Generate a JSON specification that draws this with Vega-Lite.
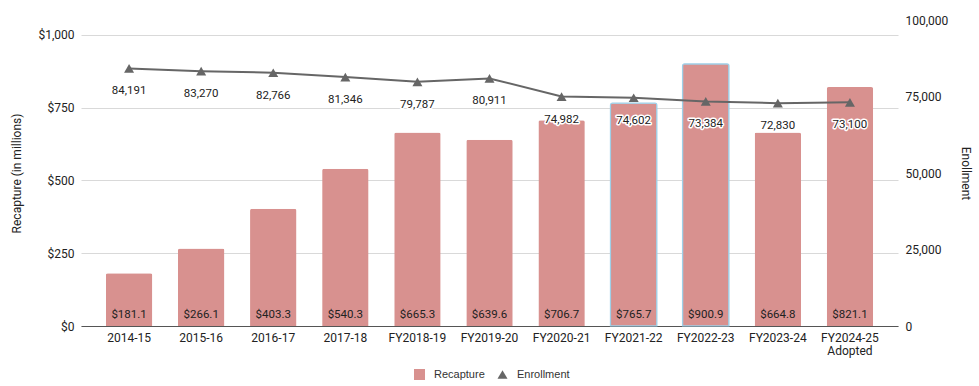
{
  "$schema": "https://vega.github.io/schema/vega-lite/v6.json",
  "width": 817,
  "height": 306,
  "autosize": "none",
  "padding": {"left": 81, "top": 20, "right": 81, "bottom": 60},
  "config": {"view": {"stroke": null}, "font": "Roboto"},
  "data": {
    "values": [
      {"year": "2014-15", "recapture": 181.1, "enrollment": 84191},
      {"year": "2015-16", "recapture": 266.1, "enrollment": 83270},
      {"year": "2016-17", "recapture": 403.3, "enrollment": 82766},
      {"year": "2017-18", "recapture": 540.3, "enrollment": 81346},
      {"year": "FY2018-19", "recapture": 665.3, "enrollment": 79787},
      {"year": "FY2019-20", "recapture": 639.6, "enrollment": 80911},
      {"year": "FY2020-21", "recapture": 706.7, "enrollment": 74982},
      {"year": "FY2021-22", "recapture": 765.7, "enrollment": 74602},
      {"year": "FY2022-23", "recapture": 900.9, "enrollment": 73384},
      {"year": "FY2023-24", "recapture": 664.8, "enrollment": 72830},
      {"year": "FY2024-25 Adopted", "recapture": 821.1, "enrollment": 73100}
    ]
  },
  "encoding": {
    "x": {
      "field": "year",
      "type": "nominal",
      "sort": null,
      "scale": {"paddingInner": 0.356, "paddingOuter": 0.345},
      "axis": {
        "title": null,
        "labelAngle": 0,
        "ticks": false,
        "domainColor": "#555555",
        "domainWidth": 1,
        "labelFont": "Roboto",
        "labelFontSize": 12,
        "labelColor": "#222222",
        "labelPadding": 6,
        "labelLineHeight": 13,
        "labelExpr": "split(datum.label, ' ')"
      }
    }
  },
  "layer": [
    {
      "encoding": {
        "y": {
          "field": "recapture",
          "type": "quantitative",
          "scale": {"domain": [0, 1051.5], "nice": false, "zero": true},
          "axis": {
            "orient": "left",
            "title": "Recapture (in millions)",
            "values": [0, 250, 500, 750, 1000],
            "format": "$,.0f",
            "domain": false,
            "ticks": false,
            "gridColor": "#d9d9d9",
            "labelFontSize": 12,
            "labelColor": "#222222",
            "labelPadding": 7,
            "titleFont": "Roboto",
            "titleFontSize": 12,
            "titleFontWeight": "normal",
            "titleColor": "#222222",
            "titlePadding": 14
          }
        }
      },
      "layer": [
        {
          "mark": {"type": "bar", "color": "#d8918f", "cornerRadiusTopLeft": 2, "cornerRadiusTopRight": 2},
          "encoding": {
            "color": {
              "datum": "Recapture",
              "type": "nominal",
              "scale": {"domain": ["Recapture"], "range": ["#d8918f"]},
              "legend": {
                "orient": "none",
                "legendX": 333,
                "legendY": 349,
                "title": null,
                "padding": 0,
                "symbolType": "square",
                "symbolSize": 121,
                "symbolStrokeWidth": 0,
                "labelOffset": 9,
                "labelFont": "Liberation Sans",
                "labelFontSize": 11,
                "labelColor": "#333333"
              }
            },
            "stroke": {
              "condition": {"test": "datum.year === 'FY2021-22' || datum.year === 'FY2022-23'", "value": "#9fd0e8"},
              "value": null
            },
            "strokeWidth": {"value": 1.2}
          }
        },
        {
          "mark": {"type": "text", "baseline": "middle", "dy": -11, "fontSize": 11.5, "color": "#222222"},
          "encoding": {
            "y": {"datum": 0, "type": "quantitative"},
            "text": {"field": "recapture", "type": "quantitative", "format": "$.1f"}
          }
        }
      ]
    },
    {
      "encoding": {
        "y": {
          "field": "enrollment",
          "type": "quantitative",
          "scale": {"domain": [0, 100000], "nice": false},
          "axis": {
            "orient": "right",
            "title": "Enollment",
            "values": [0, 25000, 50000, 75000, 100000],
            "format": ",.0f",
            "grid": false,
            "domain": false,
            "ticks": false,
            "labelFontSize": 12,
            "labelColor": "#222222",
            "labelPadding": 7,
            "titleFont": "Roboto",
            "titleFontSize": 12,
            "titleFontWeight": "normal",
            "titleColor": "#222222",
            "titlePadding": 11
          }
        }
      },
      "layer": [
        {
          "mark": {"type": "line", "color": "#666666", "strokeWidth": 2}
        },
        {
          "mark": {"type": "point", "filled": true, "color": "#666666", "size": 100, "opacity": 1},
          "encoding": {
            "shape": {
              "datum": "Enrollment",
              "type": "nominal",
              "scale": {"domain": ["Enrollment"], "range": ["triangle-up"]},
              "legend": {
                "orient": "none",
                "legendX": 416,
                "legendY": 349,
                "title": null,
                "padding": 0,
                "symbolSize": 100,
                "symbolFillColor": "#555555",
                "symbolStrokeColor": "#555555",
                "symbolStrokeWidth": 0,
                "labelOffset": 9,
                "labelFont": "Liberation Sans",
                "labelFontSize": 11,
                "labelColor": "#333333"
              }
            }
          }
        },
        {
          "mark": {"type": "text", "baseline": "middle", "dy": 23, "fontSize": 11.5, "stroke": "white", "strokeWidth": 3, "strokeJoin": "round", "color": "white"},
          "encoding": {
            "text": {"field": "enrollment", "type": "quantitative", "format": ",.0f"}
          }
        },
        {
          "mark": {"type": "text", "baseline": "middle", "dy": 23, "fontSize": 11.5, "color": "#222222"},
          "encoding": {
            "text": {"field": "enrollment", "type": "quantitative", "format": ",.0f"}
          }
        }
      ]
    }
  ],
  "resolve": {"scale": {"y": "independent"}}
}
